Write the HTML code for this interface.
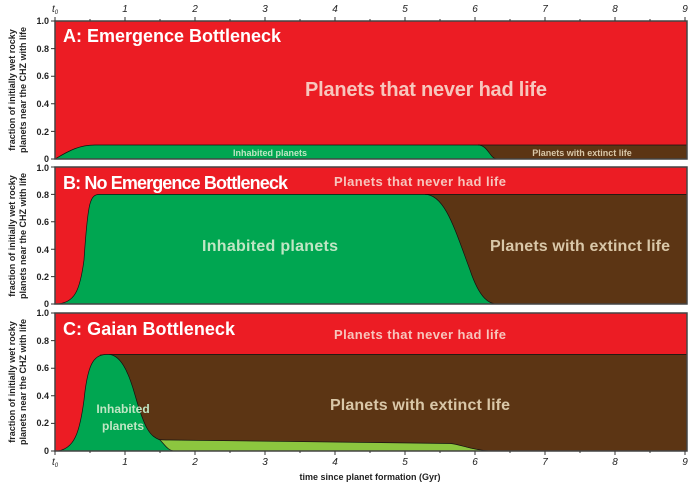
<!DOCTYPE html>
<html><head><style>body{margin:0;background:#fff}svg{display:block;font-family:"Liberation Sans",sans-serif}</style></head><body>
<svg width="700" height="486" viewBox="0 0 700 486">
<g font-size="9" fill="#222" text-anchor="end" font-weight="bold">
<text x="49" y="24">1.0</text><text x="49" y="52">0.8</text><text x="49" y="79">0.6</text><text x="49" y="107">0.4</text><text x="49" y="135">0.2</text><text x="49" y="162">0</text>
<text x="49" y="171">1.0</text><text x="49" y="198">0.8</text><text x="49" y="225">0.6</text><text x="49" y="253">0.4</text><text x="49" y="280">0.2</text><text x="49" y="307">0</text>
<text x="49" y="316">1.0</text><text x="49" y="344">0.8</text><text x="49" y="371">0.6</text><text x="49" y="399">0.4</text><text x="49" y="426">0.2</text><text x="49" y="454">0</text>
</g>
<g font-size="9" fill="#222" text-anchor="middle" font-weight="bold">
<text transform="translate(15,90) rotate(-90)">fraction of initially wet rocky</text>
<text transform="translate(26,90) rotate(-90)">planets near the CHZ with life</text>
<text transform="translate(15,236) rotate(-90)">fraction of initially wet rocky</text>
<text transform="translate(26,236) rotate(-90)">planets near the CHZ with life</text>
<text transform="translate(15,382) rotate(-90)">fraction of initially wet rocky</text>
<text transform="translate(26,382) rotate(-90)">planets near the CHZ with life</text>
</g>
<g font-size="10" fill="#222" text-anchor="middle" font-style="italic">
<text x="55" y="12">t<tspan font-size="6" dy="2">0</tspan></text>
<text x="125" y="12">1</text><text x="195" y="12">2</text><text x="265" y="12">3</text><text x="335" y="12">4</text><text x="405" y="12">5</text><text x="475" y="12">6</text><text x="545" y="12">7</text><text x="615" y="12">8</text><text x="685" y="12">9</text>
<text x="55" y="465">t<tspan font-size="6" dy="2">0</tspan></text>
<text x="125" y="465">1</text><text x="195" y="465">2</text><text x="265" y="465">3</text><text x="335" y="465">4</text><text x="405" y="465">5</text><text x="475" y="465">6</text><text x="545" y="465">7</text><text x="615" y="465">8</text><text x="685" y="465">9</text>
</g>
<text x="370" y="480" font-size="9" font-weight="bold" text-anchor="middle" fill="#222">time since planet formation (Gyr)</text>

<rect x="55" y="21" width="632" height="138" fill="#ec1c24"/>
<rect x="440" y="145" width="247" height="14" fill="#5c3514"/>
<path d="M55,159 C70,150 80,145 95,145 L478,145 C488,145 490,159 497,159 Z" fill="#00a651" stroke="#111" stroke-width="0.7"/>
<line x1="478" y1="145" x2="687" y2="145" stroke="#111" stroke-width="0.7"/>
<rect x="55" y="21" width="632" height="138" fill="none" stroke="#444" stroke-width="1.5"/>
<text x="63" y="42" font-size="18" font-weight="bold" fill="#fff" textLength="218">A: Emergence Bottleneck</text>
<text x="426" y="96" font-size="20" font-weight="bold" fill="#f7c6bd" text-anchor="middle" textLength="242">Planets that never had life</text>
<text x="270" y="156" font-size="9" font-weight="bold" fill="#bfe6c4" text-anchor="middle">Inhabited planets</text>
<text x="582" y="156" font-size="9" font-weight="bold" fill="#d9c7a8" text-anchor="middle">Planets with extinct life</text>

<rect x="55" y="167" width="632" height="137" fill="#ec1c24"/>
<rect x="400" y="194.4" width="287" height="109.6" fill="#5c3514"/>
<path d="M55,304 C75,304 80,290 84,260 C88,200 90,194.4 100,194.4 L425,194.4 C445,194.4 455,230 470,270 C480,300 490,304 497,304 Z" fill="#00a651" stroke="#111" stroke-width="0.7"/>
<line x1="425" y1="194.4" x2="687" y2="194.4" stroke="#111" stroke-width="0.7"/>
<rect x="55" y="167" width="632" height="137" fill="none" stroke="#444" stroke-width="1.5"/>
<text x="63" y="189" font-size="18" font-weight="bold" fill="#fff" textLength="225">B: No Emergence Bottleneck</text>
<text x="420" y="186" font-size="13" font-weight="bold" fill="#f7c6bd" text-anchor="middle" textLength="172">Planets that never had life</text>
<text x="270" y="251" font-size="16" font-weight="bold" fill="#bfe6c4" text-anchor="middle" textLength="136">Inhabited planets</text>
<text x="580" y="251" font-size="16" font-weight="bold" fill="#d9c7a8" text-anchor="middle" textLength="180">Planets with extinct life</text>

<rect x="55" y="313" width="632" height="138" fill="#ec1c24"/>
<rect x="100" y="354.4" width="587" height="96.6" fill="#5c3514"/>
<line x1="108" y1="354.4" x2="687" y2="354.4" stroke="#111" stroke-width="0.7"/>
<path d="M150,437 C155,440 160,440 170,440 L450,443.5 C460,444 470,450 490,451 L150,451 Z" fill="#8cc63f" stroke="#111" stroke-width="0.7"/>
<path d="M55,451 C75,451 80,430 84,400 C88,360 95,354.4 108,354.4 C120,354.4 128,370 135,395 C145,430 150,436 160,440 C165,445 168,451 175,451 Z" fill="#00a651" stroke="#111" stroke-width="0.7"/>
<rect x="55" y="313" width="632" height="138" fill="none" stroke="#444" stroke-width="1.5"/>
<text x="63" y="335" font-size="18" font-weight="bold" fill="#fff" textLength="172">C: Gaian Bottleneck</text>
<text x="420" y="339" font-size="13" font-weight="bold" fill="#f7c6bd" text-anchor="middle" textLength="172">Planets that never had life</text>
<text x="420" y="410" font-size="16" font-weight="bold" fill="#d9c7a8" text-anchor="middle" textLength="180">Planets with extinct life</text>
<text x="123" y="413" font-size="12" font-weight="bold" fill="#bfe6c4" text-anchor="middle">Inhabited</text>
<text x="123" y="430" font-size="12" font-weight="bold" fill="#bfe6c4" text-anchor="middle">planets</text>

<g stroke="#333" stroke-width="1">
<path d="M55,21v-4M90,21v-2M125,21v-4M160,21v-2M195,21v-4M230,21v-2M265,21v-4M300,21v-2M335,21v-4M370,21v-2M405,21v-4M440,21v-2M475,21v-4M510,21v-2M545,21v-4M580,21v-2M615,21v-4M650,21v-2M685,21v-4"/>
<path d="M55,451v4M90,451v2M125,451v4M160,451v2M195,451v4M230,451v2M265,451v4M300,451v2M335,451v4M370,451v2M405,451v4M440,451v2M475,451v4M510,451v2M545,451v4M580,451v2M615,451v4M650,451v2M685,451v4"/>
<path d="M55,21h-4M55,48.6h-4M55,76.2h-4M55,103.8h-4M55,131.4h-4M55,159h-4M55,167h-4M55,194.4h-4M55,221.8h-4M55,249.2h-4M55,276.6h-4M55,304h-4M55,313h-4M55,340.6h-4M55,368.2h-4M55,395.8h-4M55,423.4h-4M55,451h-4"/>
</g>
</svg>
</body></html>
